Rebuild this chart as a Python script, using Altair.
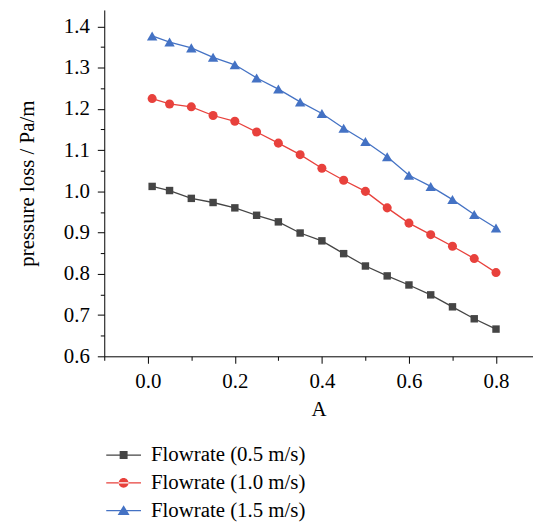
import altair as alt
import pandas as pd

a_values = [0.01, 0.05, 0.10, 0.15, 0.20, 0.25, 0.30, 0.35, 0.40,
            0.45, 0.50, 0.55, 0.60, 0.65, 0.70, 0.75, 0.80]
flow_05 = [1.012, 1.002, 0.983, 0.973, 0.960, 0.942, 0.926, 0.899, 0.880,
           0.849, 0.819, 0.795, 0.773, 0.749, 0.720, 0.691, 0.666]
flow_10 = [1.225, 1.212, 1.205, 1.184, 1.170, 1.144, 1.117, 1.089, 1.056,
           1.027, 1.000, 0.960, 0.923, 0.895, 0.867, 0.837, 0.803]
flow_15 = [1.377, 1.362, 1.348, 1.325, 1.307, 1.275, 1.248, 1.217, 1.189,
           1.153, 1.121, 1.084, 1.039, 1.012, 0.980, 0.944, 0.911]
series_names = ["Flowrate (0.5 m/s)", "Flowrate (1.0 m/s)", "Flowrate (1.5 m/s)"]
colors = ["#454545", "#E8413C", "#4472C4"]
x_major = [0.0, 0.2, 0.4, 0.6, 0.8]
x_minor = [-0.1, 0.1, 0.3, 0.5, 0.7]
y_major = [0.6, 0.7, 0.8, 0.9, 1.0, 1.1, 1.2, 1.3, 1.4]
y_minor = [0.65, 0.75, 0.85, 0.95, 1.05, 1.15, 1.25, 1.35]

rows = []
for name, vals in zip(series_names, [flow_05, flow_10, flow_15]):
    for a, v in zip(a_values, vals):
        rows.append({"A": a, "loss": v, "series": name})
df = pd.DataFrame(rows)

FONT = "Liberation Serif"
FS = 21
xs = alt.Scale(domain=[-0.1, 0.885], nice=False, zero=False)
ys = alt.Scale(domain=[0.6, 1.44], nice=False, zero=False)
col = alt.Scale(domain=series_names, range=colors)

common_axis = dict(grid=False, domainColor="black", tickColor="black",
                   labelColor="black", titleColor="black", labelFont=FONT,
                   labelFontSize=FS, titleFont=FONT, titleFontSize=FS,
                   titleFontWeight="normal", domainWidth=1, tickWidth=1)

x_major_axis = alt.Axis(values=x_major, format=".1f", orient="bottom", title="A",
                        tickSize=7, labelPadding=7, titlePadding=8, **common_axis)
y_major_axis = alt.Axis(values=y_major, format=".1f", orient="left",
                        title="pressure loss / Pa/m", tickSize=7, labelPadding=8,
                        titlePadding=26, **common_axis)
x_minor_axis = alt.Axis(values=x_minor, orient="bottom", labels=False, title=None,
                        domain=False, tickSize=4, grid=False, tickColor="black")
y_minor_axis = alt.Axis(values=y_minor, orient="left", labels=False, title=None,
                        domain=False, tickSize=4, grid=False, tickColor="black")

base = alt.Chart(df)

lines = base.mark_line(strokeWidth=1.3).encode(
    x=alt.X("A:Q", scale=xs, axis=x_major_axis),
    y=alt.Y("loss:Q", scale=ys, axis=y_major_axis),
    color=alt.Color("series:N", scale=col, legend=None),
)

minor = base.mark_point(opacity=0).encode(
    x=alt.X("A:Q", scale=xs, axis=x_minor_axis),
    y=alt.Y("loss:Q", scale=ys, axis=y_minor_axis),
)

points = base.mark_point(filled=True, opacity=1).encode(
    x=alt.X("A:Q", scale=xs, axis=None),
    y=alt.Y("loss:Q", scale=ys, axis=None),
    color=alt.Color("series:N", scale=col, legend=None),
    shape=alt.Shape("series:N", scale=alt.Scale(domain=series_names,
                    range=["square", "circle", "triangle-up"]), legend=None),
    size=alt.Size("series:N", scale=alt.Scale(domain=series_names,
                  range=[56, 110, 140]), legend=None),
)

line_part = "M-3.5,-0.12H3.5V0.12H-3.5Z "
legend_paths = [
    line_part + "M-0.8,-0.8H0.8V0.8H-0.8Z",
    line_part + "M-1,0A1,1 0 1,0 1,0A1,1 0 1,0 -1,0Z",
    line_part + "M0,-1.1L1.2,0.9H-1.2Z",
]
leg = alt.Legend(orient="none", legendX=9, legendY=438, title=None,
                 labelFont=FONT, labelFontSize=FS, labelColor="black",
                 symbolSize=100, symbolStrokeWidth=0, symbolOpacity=1,
                 labelOffset=17, rowPadding=6, direction="vertical")
legend_layer = base.mark_point(filled=True, opacity=0).encode(
    x=alt.X("A:Q", scale=xs, axis=None),
    y=alt.Y("loss:Q", scale=ys, axis=None),
    color=alt.Color("series:N", scale=col, legend=leg),
    shape=alt.Shape("series:N", scale=alt.Scale(domain=series_names,
                    range=legend_paths), legend=leg),
)

chart = alt.layer(lines, minor, points, legend_layer).resolve_scale(
    color="independent", shape="independent", size="independent"
).resolve_axis(
    x="independent", y="independent"
).properties(
    width=432, height=349,
    padding={"left": 97, "top": 0, "right": 0, "bottom": 165},
    autosize=alt.AutoSizeParams(type="none"),
).configure_view(stroke=None)

chart.save("out.html", embed_options={"renderer": "svg", "actions": False})
